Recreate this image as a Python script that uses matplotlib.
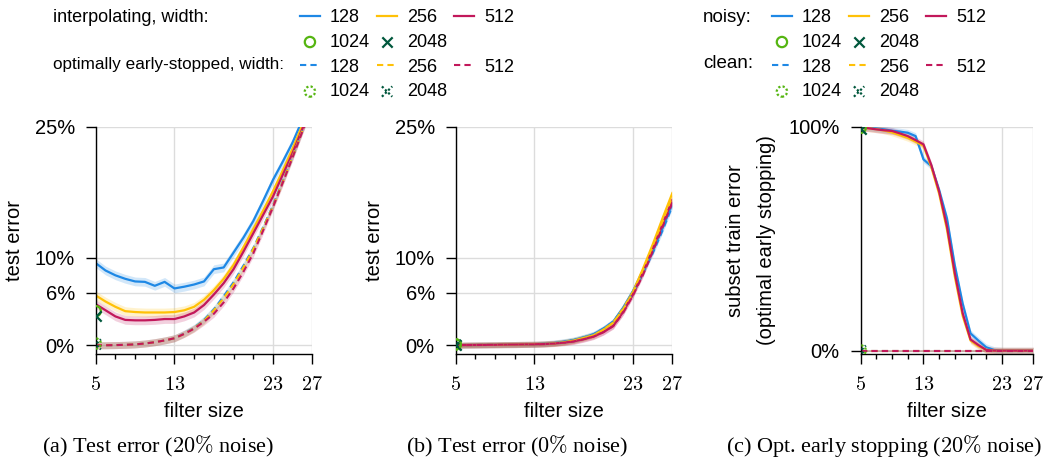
import numpy as np
import matplotlib
matplotlib.use('Agg')
import matplotlib.pyplot as plt
from matplotlib.lines import Line2D

# 字体与全局样式
plt.rcParams['font.family'] = ['Liberation Sans', 'DejaVu Sans']
plt.rcParams['mathtext.fontset'] = 'cm'
plt.rcParams['axes.linewidth'] = 1.0

# ---- data ----
filter_sizes = list(range(5, 28))
widths = ['128', '256', '512']
tick_x = [5, 13, 23, 27]
tick_x_minor = [7, 9, 11, 15, 17, 19, 21]

# (a) test error, 20% noise
a_interp_128 = [9.4, 8.55, 8.0, 7.6, 7.3, 7.25, 6.8, 7.25, 6.5, 6.7, 6.95, 7.3, 8.7, 8.9, 10.6, 12.3, 14.2, 16.5, 18.9, 21.0, 23.2, 25.8, 28.5]
a_interp_256 = [5.7, 5.0, 4.4, 3.9, 3.8, 3.75, 3.75, 3.75, 3.8, 4.0, 4.4, 5.2, 6.3, 7.6, 9.2, 11.2, 13.3, 15.4, 17.6, 20.0, 22.5, 25.2, 28.0]
a_interp_512 = [4.7, 4.0, 3.3, 2.9, 2.85, 2.85, 2.9, 3.0, 3.0, 3.3, 3.75, 4.6, 5.8, 7.1, 8.7, 10.7, 12.8, 14.9, 17.0, 19.5, 22.0, 24.8, 27.6]
a_es_128 = [0.0, 0.0, 0.02, 0.05, 0.1, 0.2, 0.35, 0.55, 0.8, 1.35, 2.0, 2.9, 4.1, 5.6, 7.2, 9.1, 11.1, 13.5, 16.0, 18.8, 21.6, 24.6, 27.6]
a_es_256 = [0.0, 0.0, 0.02, 0.05, 0.1, 0.2, 0.35, 0.55, 0.8, 1.3, 1.95, 2.8, 4.0, 5.4, 7.0, 8.9, 11.0, 13.4, 15.9, 18.7, 21.6, 24.6, 27.6]
a_es_512 = [0.0, 0.0, 0.02, 0.05, 0.1, 0.2, 0.35, 0.55, 0.8, 1.3, 1.9, 2.7, 3.6, 4.9, 6.5, 8.4, 10.5, 13.1, 15.8, 18.6, 21.5, 24.5, 27.5]
a_interp_1024, a_interp_2048 = 3.9, 3.4
a_es_1024, a_es_2048 = 0.2, 0.1

# (b) test error, 0% noise
b_interp_128 = [0.0, 0.02, 0.03, 0.04, 0.05, 0.07, 0.08, 0.1, 0.12, 0.16, 0.25, 0.4, 0.6, 0.9, 1.25, 1.9, 2.7, 4.3, 6.2, 8.5, 10.8, 13.4, 16.2]
b_interp_256 = [0.0, 0.02, 0.03, 0.04, 0.05, 0.07, 0.08, 0.1, 0.12, 0.15, 0.22, 0.35, 0.55, 0.85, 1.15, 1.8, 2.6, 4.2, 6.1, 8.7, 11.5, 14.5, 17.4]
b_interp_512 = [0.0, 0.02, 0.03, 0.04, 0.05, 0.07, 0.08, 0.1, 0.11, 0.14, 0.2, 0.3, 0.45, 0.7, 1.0, 1.5, 2.2, 3.8, 5.8, 8.2, 10.9, 13.8, 16.6]
b_es_128 = [0.0, 0.02, 0.03, 0.04, 0.05, 0.07, 0.08, 0.1, 0.12, 0.16, 0.25, 0.4, 0.6, 0.9, 1.25, 1.9, 2.7, 4.2, 6.0, 8.2, 10.5, 13.1, 15.9]
b_es_256 = [0.0, 0.02, 0.03, 0.04, 0.05, 0.07, 0.08, 0.1, 0.12, 0.15, 0.22, 0.35, 0.55, 0.85, 1.15, 1.8, 2.6, 4.1, 6.0, 8.5, 11.2, 14.1, 17.0]
b_es_512 = [0.0, 0.02, 0.03, 0.04, 0.05, 0.07, 0.08, 0.1, 0.11, 0.14, 0.2, 0.3, 0.45, 0.7, 1.0, 1.5, 2.2, 3.7, 5.7, 8.0, 10.7, 13.5, 16.3]
b_interp_1024, b_interp_2048 = 0.1, 0.05
b_es_1024, b_es_2048 = 0.1, 0.05

# (c) subset train error under optimal early stopping, 20% noise
c_noisy_128 = [99.8, 99.6, 99.2, 98.8, 98.2, 97.8, 97.3, 95.8, 85.4, 82.4, 71.7, 59.0, 38.0, 21.0, 7.7, 4.5, 1.5, 0.3, 0.0, 0.0, 0.0, 0.0, 0.0]
c_noisy_256 = [99.6, 99.3, 98.9, 98.3, 97.4, 96.2, 95.0, 93.3, 91.5, 82.0, 70.0, 54.0, 33.0, 15.5, 4.5, 2.0, 0.4, 0.0, 0.0, 0.0, 0.0, 0.0, 0.0]
c_noisy_512 = [99.6, 99.3, 98.8, 98.4, 98.1, 97.0, 95.8, 94.0, 92.1, 82.9, 71.0, 55.4, 34.5, 16.7, 5.0, 2.5, 0.3, 0.0, 0.0, 0.0, 0.0, 0.0, 0.0]
c_clean_128 = [0.0] * 23
c_clean_256 = [0.0] * 23
c_clean_512 = [0.0] * 23
c_noisy_1024, c_noisy_2048 = 99.5, 99.0
c_clean_1024, c_clean_2048 = 0.1, 0.0

colors = {'128': '#1E88E5', '256': '#FFC107', '512': '#C2185B'}
c_1024 = '#55B511'
c_2048 = '#00573C'
DASH = (3.0, 2.0)
DOTS = (0, (1.0, 1.0))
FS_AX = 14.5   # axis text
FS_LEG = 13    # legend text

fig = plt.figure(figsize=(10.54, 4.67), dpi=100)
W, H = 1054, 467


def add_panel(left, right, ylim, yticks, ylabels):
    ax = fig.add_axes([left / W, 1 - 354 / H, (right - left) / W, (354 - 126.7) / H])
    ax.set_xlim(5, 27)
    ax.set_ylim(*ylim)
    ax.set_xticks(tick_x)
    ax.set_xticklabels(['$%d$' % t for t in tick_x], fontsize=14.5)
    ax.set_xticks(tick_x_minor, minor=True)
    ax.set_yticks(yticks)
    ax.set_yticklabels(ylabels, fontsize=FS_AX)
    ax.spines['top'].set_visible(False)
    ax.spines['right'].set_visible(False)
    ax.grid(True, color='#dcdcdc', linewidth=1.0, zorder=0)
    ax.set_axisbelow(True)
    ax.tick_params(which='major', length=7, width=1.0, pad=8)
    ax.tick_params(which='minor', length=3.5, width=1.0)
    ax.set_xlabel('filter size', fontsize=FS_AX)
    ax.xaxis.set_label_coords(0.5, -0.21)
    ax.xaxis.label.set_va('top')
    return ax


def draw(ax, interp, es, m_int, m_es, band, band_es):
    for w, y in zip(widths, interp):
        y = np.array(y)
        ax.fill_between(filter_sizes, y - band, y + band, color=colors[w], alpha=0.2, lw=0)
        ax.plot(filter_sizes, y, color=colors[w], lw=1.6)
    for w, y in zip(widths, es):
        y = np.array(y)
        ax.fill_between(filter_sizes, y - band_es, y + band_es, color=colors[w], alpha=0.2, lw=0)
        ax.plot(filter_sizes, y, color=colors[w], lw=1.5, dashes=DASH)
    h = {}
    h['o'] = ax.scatter([5], [m_int[0]], s=55, marker='o', facecolors='none', edgecolors=c_1024, linewidths=1.6, zorder=5)
    h['x'] = ax.scatter([5], [m_int[1]], s=55, marker='x', color=c_2048, linewidths=1.6, zorder=5)
    h['o:'] = ax.scatter([5], [m_es[0]], s=55, marker='o', facecolors='none', edgecolors=c_1024, linewidths=1.6, linestyle=DOTS, zorder=5)
    h['x:'] = ax.scatter([5], [m_es[1]], s=55, marker='x', color=c_2048, linewidths=1.6, linestyle=DOTS, zorder=5)
    return h


# (a)
ax1 = add_panel(95.7, 312.3, (-1.0, 25), [0, 6, 10, 25], ['0%', '6%', '10%', '25%'])
hnd = draw(ax1, [a_interp_128, a_interp_256, a_interp_512], [a_es_128, a_es_256, a_es_512],
           (a_interp_1024, a_interp_2048), (a_es_1024, a_es_2048), 0.5, 0.4)
ax1.set_ylabel('test error', fontsize=FS_AX)
ax1.yaxis.set_label_coords(-0.33, 0.5)

# (b)
ax2 = add_panel(455.7, 672.3, (-1.0, 25), [0, 6, 10, 25], ['0%', '6%', '10%', '25%'])
draw(ax2, [b_interp_128, b_interp_256, b_interp_512], [b_es_128, b_es_256, b_es_512],
     (b_interp_1024, b_interp_2048), (b_es_1024, b_es_2048), 0.35, 0.3)
ax2.set_ylabel('test error', fontsize=FS_AX)
ax2.yaxis.set_label_coords(-0.33, 0.5)

# (c)
ax3 = add_panel(860.7, 1033.3, (-1.5, 100), [0, 100], ['0%', '100%'])
draw(ax3, [c_noisy_128, c_noisy_256, c_noisy_512], [c_clean_128, c_clean_256, c_clean_512],
     (c_noisy_1024, c_noisy_2048), (c_clean_1024, c_clean_2048), 1.5, 0.4)
ax3.set_ylabel('subset train error\n(optimal early stopping)', fontsize=FS_AX, linespacing=1.8)
ax3.yaxis.set_label_coords(-0.49, 0.5)

# 图例
blank = Line2D([], [], alpha=0)
solid = {w: Line2D([], [], color=colors[w], lw=1.6) for w in widths}
dashed = {w: Line2D([], [], color=colors[w], lw=1.5, dashes=DASH) for w in widths}
handles = [solid['128'], hnd['o'], dashed['128'], hnd['o:'],
           solid['256'], hnd['x'], dashed['256'], hnd['x:'],
           solid['512'], blank, dashed['512'], blank]
labels = ['128', '1024', '128', '1024', '256', '2048', '256', '2048', '512', '', '512', '']

for x0 in (300, 772):
    fig.legend(handles, labels, ncol=3, frameon=False, fontsize=FS_LEG,
               loc='upper left', bbox_to_anchor=(x0 / W, 1 - 9 / H),
               borderpad=0, borderaxespad=0, handlelength=1.1, handletextpad=0.55,
               columnspacing=0.4, labelspacing=0.43, scatterpoints=1)

fig.text(53 / W, 1 - 18 / H, 'interpolating, width:', fontsize=FS_LEG, va='center')
fig.text(53 / W, 1 - 64 / H, 'optimally early-stopped, width:', fontsize=12.3, va='center')
fig.text(703 / W, 1 - 18 / H, 'noisy:', fontsize=FS_LEG + 0.5, va='center')
fig.text(703 / W, 1 - 64 / H, 'clean:', fontsize=FS_LEG + 0.5, va='center')

# 子图标题
cap = dict(fontsize=16, family='Liberation Serif', ha='center', va='center')
fig.text(158 / W, 1 - 446 / H, '(a) Test error ($20\\%$ noise)', **cap)
fig.text(517 / W, 1 - 446 / H, '(b) Test error ($0\\%$ noise)', **cap)
fig.text(884 / W, 1 - 446 / H, '(c) Opt. early stopping ($20\\%$ noise)', **cap)

fig.savefig('out.png', dpi=100)
